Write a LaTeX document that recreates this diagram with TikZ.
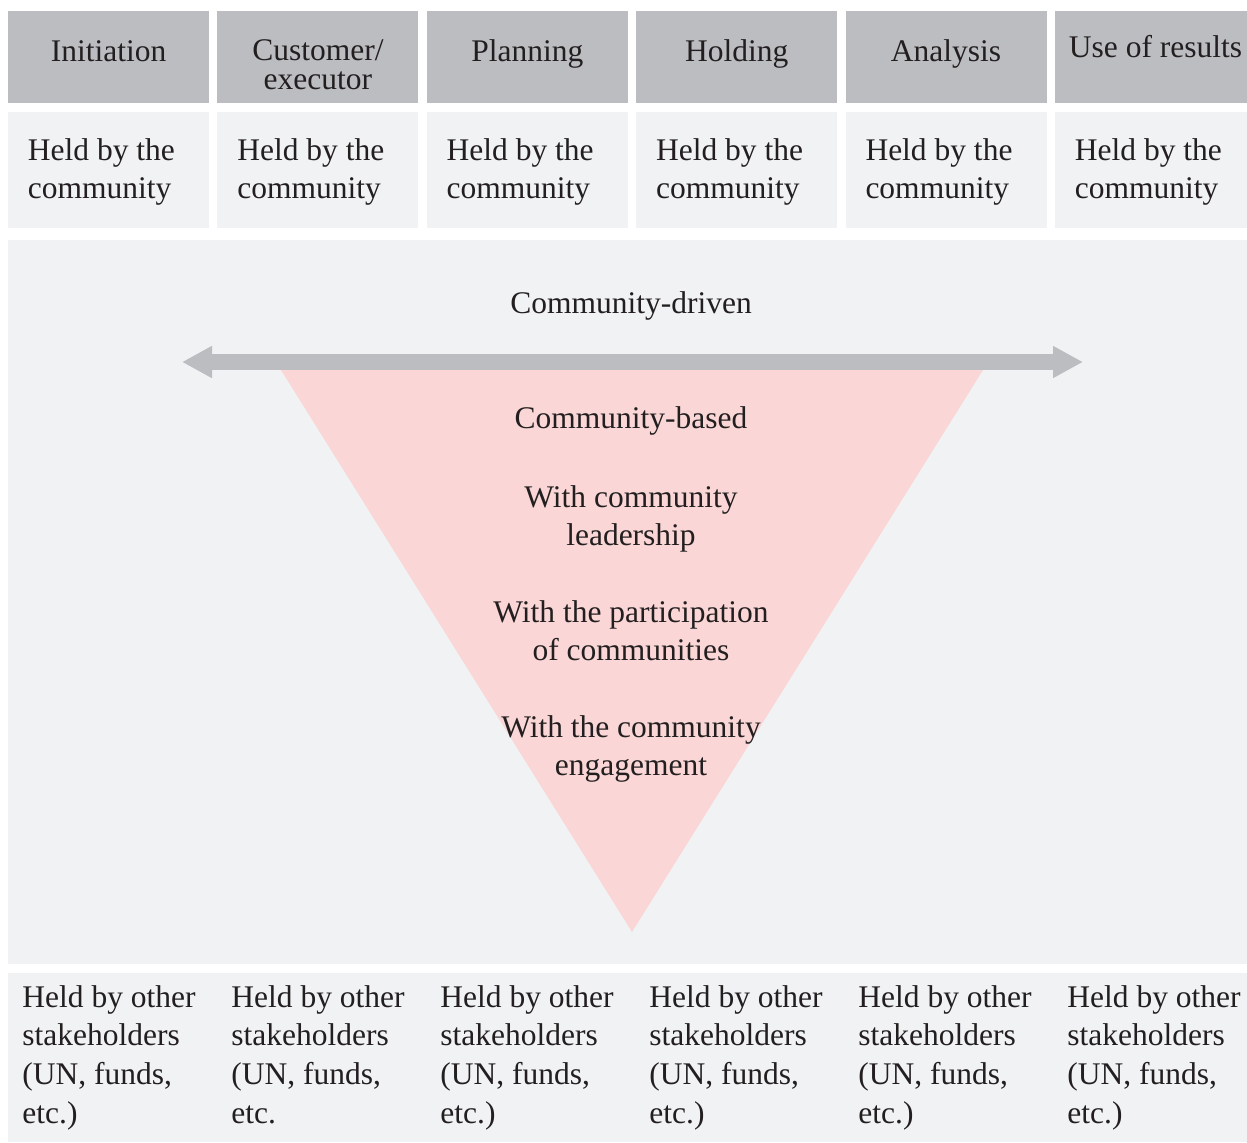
\documentclass[tikz,border=0pt]{standalone}
\usepackage{fontspec}
\setmainfont{Liberation Serif}
\usetikzlibrary{arrows.meta}
\definecolor{headgray}{HTML}{BCBDC0}
\definecolor{panelgray}{HTML}{F1F2F4}
\definecolor{wedgepink}{HTML}{FAD7D6}
\definecolor{inktext}{HTML}{231F20}

\begin{document}
\begin{tikzpicture}[x=0.5pt, y=-0.5pt,
    every node/.style={text=inktext, inner sep=0pt, font=\fontsize{15.75}{19}\selectfont},
    headtext/.style={anchor=base, align=center, font=\fontsize{15.75}{14.5}\selectfont},
    celltext/.style={anchor=base west, align=left},
    midtext/.style={anchor=base, align=center}]
    \useasboundingbox (0,0) rectangle (1247,1142);
    \pgfmathsetmacro{\colStep}{209.4}  % distance between column starts
    \pgfmathsetmacro{\colWidth}{201}   % width of one column box
    % stage boxes and the top row (y is the baseline of the last line)
    \foreach \i/\stage/\yb in {0/Initiation/61, 1/{Customer/\\executor}/89,
        2/Planning/61, 3/Holding/61, 4/Analysis/61, 5/Use of results/57}{
        \pgfmathsetmacro{\xl}{8+\colStep*\i}
        \pgfmathsetmacro{\xr}{min(\xl+\colWidth,1247)}
        \fill[headgray] (\xl,11) rectangle (\xr,103);
        \fill[panelgray] (\xl,112) rectangle (\xr,228);
        \node[headtext] (stage\i) at (\xl+100.5,\yb) {\stage};
        \node[celltext] (held\i) at (\xl+19.5,198) {Held by the\\community};
    }
    % middle panel and bottom row
    \fill[panelgray] (8,240) rectangle (1247,964);
    \fill[panelgray] (8,973) rectangle (1247,1142);
    \fill[wedgepink] (276,362) -- (988,362) -- (632,932) -- cycle;
    \coordinate (arrL) at (182,362);
    \coordinate (arrR) at (1083,362);
    \draw[headgray, line width=8pt,
        {Triangle[length=15pt,width=15pt]}-{Triangle[length=15pt,width=15pt]}]
        (arrL) -- (arrR);
    \node[midtext] (driven) at (631,313) {Community-driven};
    \node[midtext] (based) at (631,428) {Community-based};
    \node[midtext] (leader) at (631,545) {With community\\leadership};
    \node[midtext] (partic) at (631,660) {With the participation\\of communities};
    \node[midtext] (engage) at (631,775) {With the community\\engagement};
    \foreach \i/\tail in {0/{etc.)}, 1/{etc.}, 2/{etc.)}, 3/{etc.)}, 4/{etc.)}, 5/{etc.)}}{
        \node[celltext, font=\fontsize{15.75}{19.3}\selectfont] (other\i)
            at (22+209*\i,1123) {Held by other\\stakeholders\\(UN, funds,\\\tail};
    }
\end{tikzpicture}
\end{document}
